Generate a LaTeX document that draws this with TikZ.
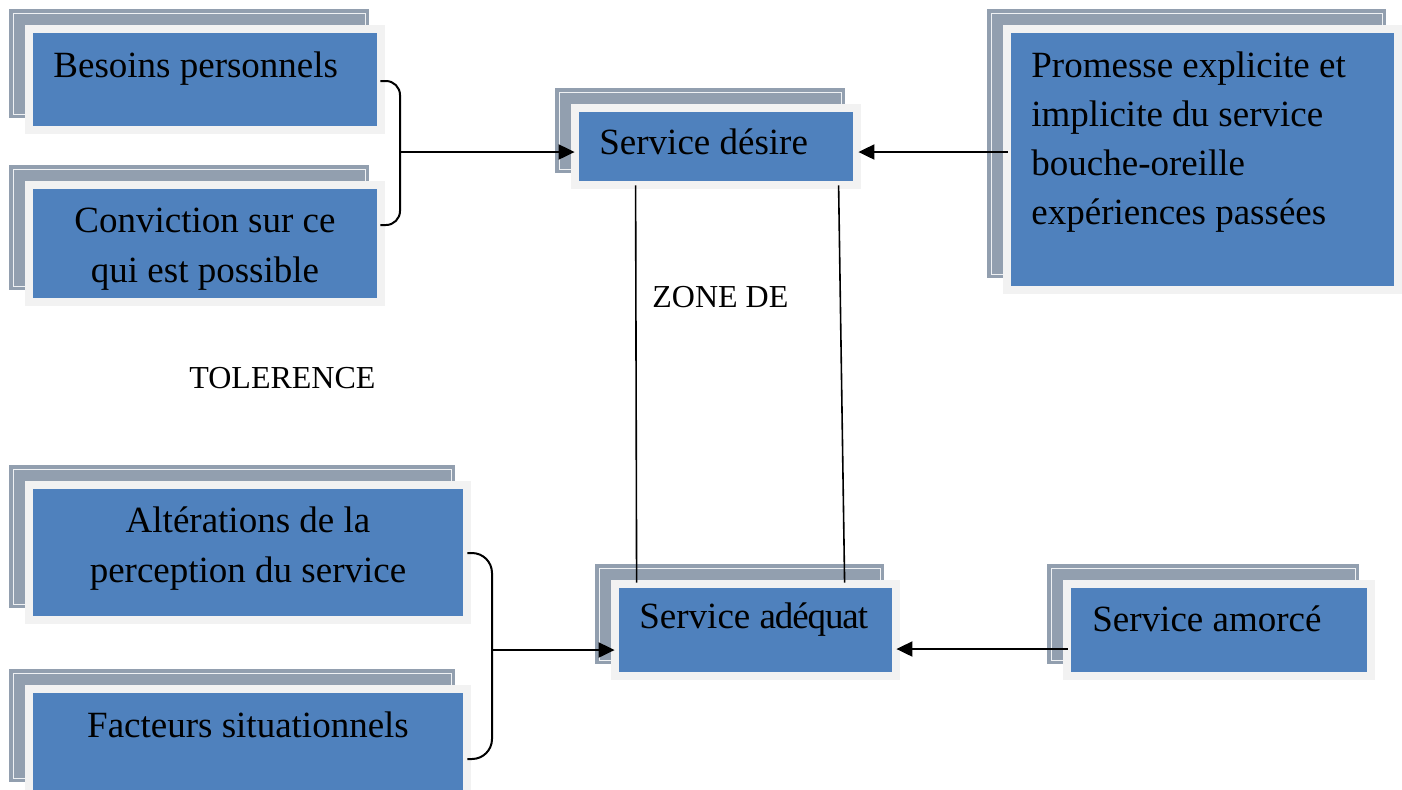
\documentclass[tikz,border=0pt]{standalone}
\usepackage{fontspec}
\setmainfont{Liberation Serif}
\usetikzlibrary{fit,arrows.meta,calc}

\definecolor{backgray}{HTML}{929FAF}
\definecolor{framegray}{HTML}{F2F2F2}
\definecolor{boxblue}{HTML}{4F81BD}

\tikzset{
  boxtext/.style={font=\fontsize{18.5}{25}\selectfont, inner sep=0pt, text=black},
  labeltext/.style={font=\fontsize{16}{20}\selectfont, inner sep=0pt, text=black},
  bluebox/.style={fill=boxblue, inner sep=0pt, draw=none},
  arr/.style={line width=1pt, -{Triangle[length=8pt,width=7.5pt]}},
  link/.style={line width=0.8pt},
  bracket/.style={line width=1pt, rounded corners=7pt},
}

% A stacked box: grey card behind, light frame, blue face (given by its corners)
\newcommand\layeredbox[5]{%
  \fill[backgray] ({#2-24},{#3-24}) rectangle ({#4-8},{#5-8});
  \draw[white!85!backgray, line width=0.35pt] ({#2-20},{#3-20}) rectangle ({#4-12},{#5-12});
  \fill[framegray] ({#2-8},{#3-8}) rectangle ({#4+8},{#5+8});
  \coordinate (#1-nw) at (#2,#3);
  \coordinate (#1-se) at (#4,#5);
  \node[bluebox, fit=(#1-nw)(#1-se)] (#1) {};
}

\begin{document}
\begin{tikzpicture}[x=0.5pt, y=-0.5pt]
  \useasboundingbox (0,0) rectangle (1402,789);
  \fill[white] (0,0) rectangle (1402,789);
  \clip (0,0) rectangle (1402,789);

  % boxes
  \layeredbox{besoins}{33}{33}{377}{126}
  \layeredbox{conviction}{33}{189}{377}{298}
  \layeredbox{desire}{579}{112}{853}{181}
  \layeredbox{promesse}{1011}{33}{1394}{286}
  \layeredbox{alter}{33}{489}{463}{616}
  \layeredbox{facteurs}{33}{693}{463}{790}
  \layeredbox{adequat}{619}{588}{892}{672}
  \layeredbox{amorce}{1071}{588}{1367}{672}

  % box texts
  \node[boxtext, anchor=base west] (besoins-t) at (53,77) {Besoins personnels};
  \node[boxtext, anchor=base] (conviction-t1) at (205,232) {Conviction sur ce};
  \node[boxtext, anchor=base] (conviction-t2) at (205,282) {qui est possible};
  \node[boxtext, anchor=base west] (desire-t) at (599,154) {Service désire};
  \node[boxtext, anchor=base west] (promesse-t1) at (1031,77) {Promesse explicite et};
  \node[boxtext, anchor=base west] (promesse-t2) at (1031,126) {implicite du service};
  \node[boxtext, anchor=base west] (promesse-t3) at (1031,175) {bouche-oreille};
  \node[boxtext, anchor=base west] (promesse-t4) at (1031,224) {expériences passées};
  \node[boxtext, anchor=base] (alter-t1) at (248,532) {Altérations de la};
  \node[boxtext, anchor=base] (alter-t2) at (248,582) {perception du service};
  \node[boxtext, anchor=base] (facteurs-t) at (248,737) {Facteurs situationnels};
  \node[boxtext, anchor=base west] (adequat-t) at (639,628) {Service {\addfontfeature{LetterSpace=-3}adéquat}};
  \node[boxtext, anchor=base west] (amorce-t) at (1092,631) {Service amorcé};

  % free labels
  \node[labeltext, anchor=base west] (zone) at (652,307) {ZONE DE};
  \node[labeltext, anchor=base west] (tol) at (189,388) {TOLERENCE};

  % upper bracket joining the two left boxes
  \coordinate (b1top) at ([shift={(3,1.5)}]besoins.east);
  \coordinate (b1bot) at ([shift={(3,-18.5)}]conviction.east);
  \coordinate (b1mid) at (400,152);
  \draw[bracket] (b1top) -- (b1top -| b1mid) -- (b1bot -| b1mid) -- (b1bot);
  \draw[arr, shorten >=2pt] (b1mid) -- (b1mid -| desire.west);

  % lower bracket
  \coordinate (b2top) at ([shift={(4,0.5)}]alter.east);
  \coordinate (b2bot) at ([shift={(4,17.5)}]facteurs.east);
  \coordinate (b2mid) at (492,650);
  \draw[bracket, rounded corners=10pt] (b2top) -- (b2top -| b2mid) -- (b2bot -| b2mid) -- (b2bot);
  \draw[arr, shorten >=2pt] (b2mid) -- (b2mid -| adequat.west);

  % arrows from the right-hand boxes
  \coordinate (p1) at ([shift={(-3,-7.5)}]promesse.west);
  \draw[arr, shorten >=2.5pt] (p1) -- (p1 -| desire.east);
  \coordinate (a1) at ([shift={(-3,19)}]amorce.west);
  \draw[arr, shorten >=2pt] (a1) -- (a1 -| adequat.east);

  % tolerance zone between desired and adequate service
  \draw[link] ([shift={(57,4)}]desire.south west) -- ([shift={(18,-5)}]adequat.north west);
  \draw[link] ([shift={(260,4)}]desire.south west) -- ([shift={(226,-5)}]adequat.north west);
\end{tikzpicture}
\end{document}
